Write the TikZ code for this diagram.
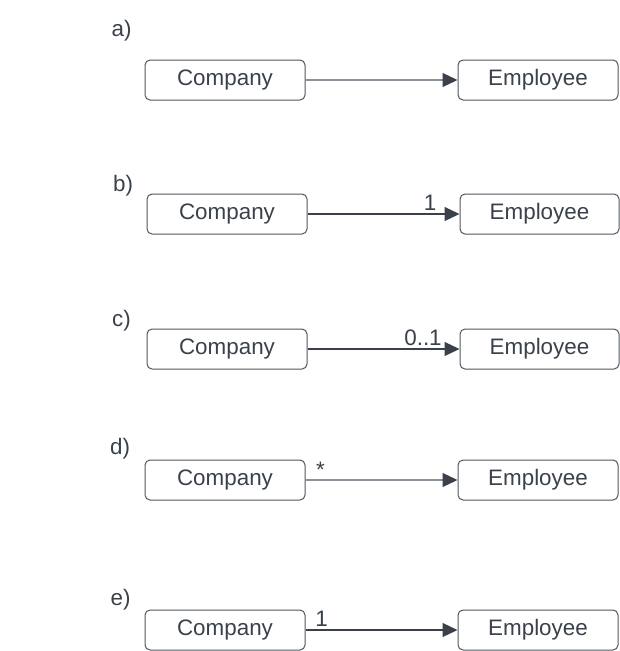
\documentclass[tikz,border=0pt]{standalone}
\usepackage{fontspec}
\setmainfont{Liberation Sans}
\usetikzlibrary{arrows.meta}
\definecolor{txt}{HTML}{3A414A}
\definecolor{boxc}{HTML}{50565E}
\definecolor{lightline}{HTML}{8C9197}
\definecolor{darkline}{HTML}{3A414A}
\begin{document}
\begin{tikzpicture}[x=1pt,y=-1pt,
  font=\fontsize{22.4}{26}\selectfont,
  cls/.style={draw=boxc, line width=1pt, rounded corners=5pt, minimum width=160pt, minimum height=40pt, text=txt, inner sep=0pt},
  lbl/.style={anchor=base west, inner sep=0pt, text=txt},
  mult/.style={anchor=base, inner sep=0pt, text=txt},
  assoc/.style={line width=1.2pt, -{Triangle[length=15pt,width=14pt,color=darkline]}},
]
\useasboundingbox (0,0) rectangle (620,651);
% a)
\node[lbl] (la) at (111.5,36) {a)};
\node[cls] (ca) at (225,80) {Company};
\node[cls] (ea) at (538,80) {Employee};
\draw[assoc, draw=lightline] (ca) -- (ea);
% b)
\node[lbl] (lb) at (113,191) {b)};
\node[cls] (cb) at (227,214) {Company};
\node[cls, minimum width=159pt] (eb) at (539.5,214) {Employee};
\draw[assoc, draw=darkline] (cb) -- (eb);
\node[mult] (mb) at (430,210) {1};
% c)
\node[lbl] (lc) at (112,326) {c)};
\node[cls] (cc) at (227,349) {Company};
\node[cls, minimum width=159pt] (ec) at (539.5,349) {Employee};
\draw[assoc, draw=darkline] (cc) -- (ec);
\node[mult] (mc) at (423,345) {0..1};
% d)
\node[lbl] (ld) at (110,454) {d)};
\node[cls] (cd) at (225,480) {Company};
\node[cls] (ed) at (538,480) {Employee};
\draw[assoc, draw=lightline] (cd) -- (ed);
\node[mult] (md) at (320.5,477) {*};
% e)
\node[lbl] (le) at (110.5,605) {e)};
\node[cls] (ce) at (225,630) {Company};
\node[cls] (ee) at (538,630) {Employee};
\draw[assoc, draw=darkline] (ce) -- (ee);
\node[mult] (me) at (321.5,626) {1};
\end{tikzpicture}
\end{document}
